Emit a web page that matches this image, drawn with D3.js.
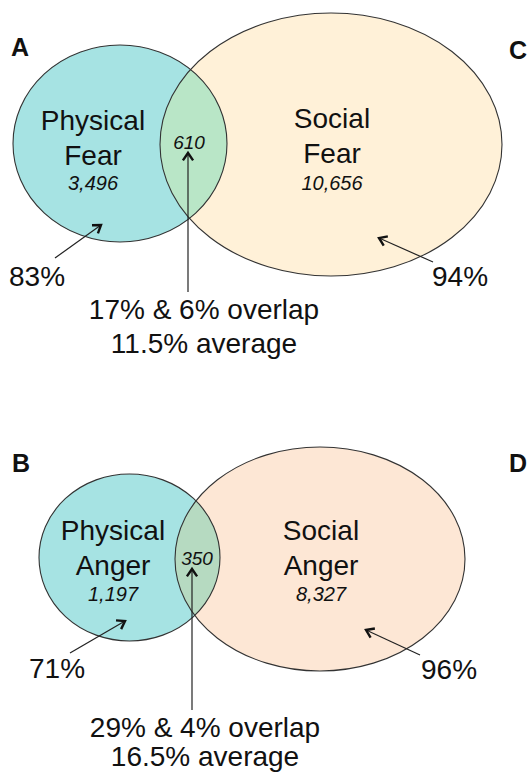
<!DOCTYPE html>
<html><head><meta charset="utf-8">
<script src="https://cdn.jsdelivr.net/npm/d3@7"></script>
<style>html,body{margin:0;padding:0;background:#fff;}svg{display:block;}</style>
</head><body>
<script>
// ---- data ----
const panelLetters = [["A","C"],["B","D"]];
const physicalLabels = [["Physical","Fear"],["Physical","Anger"]];
const socialLabels = [["Social","Fear"],["Social","Anger"]];
const physicalCounts = ["3,496","1,197"];
const socialCounts = ["10,656","8,327"];
const overlapCounts = ["610","350"];
const physicalPct = ["83%","71%"];
const socialPct = ["94%","96%"];
const overlapText = [["17% & 6% overlap","11.5% average"],["29% & 4% overlap","16.5% average"]];

// ---- layout (pixels) ----
const W = 530, H = 773;
const layout = [
  {phys:{cx:120,cy:143.5,rx:107,ry:98.5}, soc:{cx:331,cy:144.5,rx:171,ry:131.5},
   socFill:"#fff1d8", ovFill:"#b9e6c7",
   letters:[{x:11,y:56},{x:509,y:59}],
   physText:{x:93,y:[130,165],cy:190}, socText:{x:332,y:[128,163],cy:190},
   ovLabel:{x:189,y:149}, ovArrow:{x:188,y1:153,y2:292},
   pPct:{x:9,y:286}, pArrow:{x1:55,y1:258,x2:101,y2:225},
   sPct:{x:432,y:286}, sArrow:{x1:433,y1:262,x2:379,y2:238},
   ovText:{x:204,y:[319,353]}},
  {phys:{cx:129.5,cy:557.5,rx:90.5,ry:83.5}, soc:{cx:320,cy:559,rx:145,ry:112},
   socFill:"#fde7d5", ovFill:"#b6dac1",
   letters:[{x:12,y:472},{x:509,y:472}],
   physText:{x:113,y:[540,575],cy:601}, socText:{x:321,y:[540,575],cy:601},
   ovLabel:{x:197,y:565}, ovArrow:{x:192,y1:569,y2:710},
   pPct:{x:29,y:678}, pArrow:{x1:70,y1:653,x2:125,y2:621},
   sPct:{x:421,y:679}, sArrow:{x1:420,y1:655,x2:366,y2:630},
   ovText:{x:205,y:[737,766]}}
];
const physFill = "#a6e3e3";
const font = "'Liberation Sans', Arial, sans-serif";

const svg = d3.select("body").append("svg").attr("width",W).attr("height",H)
  .style("font-family",font);
const defs = svg.append("defs");

function arrow(g, x1, y1, x2, y2){
  g.append("line").attr("x1",x1).attr("y1",y1).attr("x2",x2).attr("y2",y2)
    .attr("stroke","#222").attr("stroke-width",1.2);
  const a = Math.atan2(y2-y1, x2-x1), L = 9, s = 0.6;
  const p = d3.path();
  p.moveTo(x2 - L*Math.cos(a - s), y2 - L*Math.sin(a - s));
  p.lineTo(x2, y2);
  p.lineTo(x2 - L*Math.cos(a + s), y2 - L*Math.sin(a + s));
  g.append("path").attr("d",p.toString()).attr("fill","none")
    .attr("stroke","#111").attr("stroke-width",2.4).attr("stroke-linejoin","miter");
}

layout.forEach((L, i) => {
  const g = svg.append("g");
  g.append("ellipse").attr("cx",L.soc.cx).attr("cy",L.soc.cy).attr("rx",L.soc.rx).attr("ry",L.soc.ry)
    .attr("fill",L.socFill);
  g.append("ellipse").attr("cx",L.phys.cx).attr("cy",L.phys.cy).attr("rx",L.phys.rx).attr("ry",L.phys.ry)
    .attr("fill",physFill);
  const cid = "clip"+i;
  defs.append("clipPath").attr("id",cid).append("ellipse")
    .attr("cx",L.soc.cx).attr("cy",L.soc.cy).attr("rx",L.soc.rx).attr("ry",L.soc.ry);
  g.append("ellipse").attr("clip-path",`url(#${cid})`)
    .attr("cx",L.phys.cx).attr("cy",L.phys.cy).attr("rx",L.phys.rx).attr("ry",L.phys.ry)
    .attr("fill",L.ovFill);
  [L.soc, L.phys].forEach(e => g.append("ellipse").attr("cx",e.cx).attr("cy",e.cy)
    .attr("rx",e.rx).attr("ry",e.ry).attr("fill","none").attr("stroke","#333").attr("stroke-width",1.1));

  panelLetters[i].forEach((t, j) => g.append("text").attr("x",L.letters[j].x).attr("y",L.letters[j].y)
    .attr("font-size",25).attr("font-weight","bold").attr("fill","#111").text(t));

  physicalLabels[i].forEach((t, j) => g.append("text").attr("x",L.physText.x).attr("y",L.physText.y[j])
    .attr("text-anchor","middle").attr("font-size",28).attr("fill","#111").text(t));
  g.append("text").attr("x",L.physText.x).attr("y",L.physText.cy).attr("text-anchor","middle")
    .attr("font-size",20).attr("font-style","italic").attr("fill","#111").text(physicalCounts[i]);
  socialLabels[i].forEach((t, j) => g.append("text").attr("x",L.socText.x).attr("y",L.socText.y[j])
    .attr("text-anchor","middle").attr("font-size",28).attr("fill","#111").text(t));
  g.append("text").attr("x",L.socText.x).attr("y",L.socText.cy).attr("text-anchor","middle")
    .attr("font-size",20).attr("font-style","italic").attr("fill","#111").text(socialCounts[i]);
  g.append("text").attr("x",L.ovLabel.x).attr("y",L.ovLabel.y).attr("text-anchor","middle")
    .attr("font-size",19).attr("font-style","italic").attr("fill","#111").text(overlapCounts[i]);

  arrow(g, L.ovArrow.x, L.ovArrow.y2, L.ovArrow.x, L.ovArrow.y1);
  arrow(g, L.pArrow.x1, L.pArrow.y1, L.pArrow.x2, L.pArrow.y2);
  arrow(g, L.sArrow.x1, L.sArrow.y1, L.sArrow.x2, L.sArrow.y2);

  g.append("text").attr("x",L.pPct.x).attr("y",L.pPct.y).attr("font-size",28).attr("fill","#111").text(physicalPct[i]);
  g.append("text").attr("x",L.sPct.x).attr("y",L.sPct.y).attr("font-size",28).attr("fill","#111").text(socialPct[i]);
  overlapText[i].forEach((t, j) => g.append("text").attr("x",L.ovText.x).attr("y",L.ovText.y[j])
    .attr("text-anchor","middle").attr("font-size",28).attr("fill","#111").text(t));
});
</script>
</body></html>
